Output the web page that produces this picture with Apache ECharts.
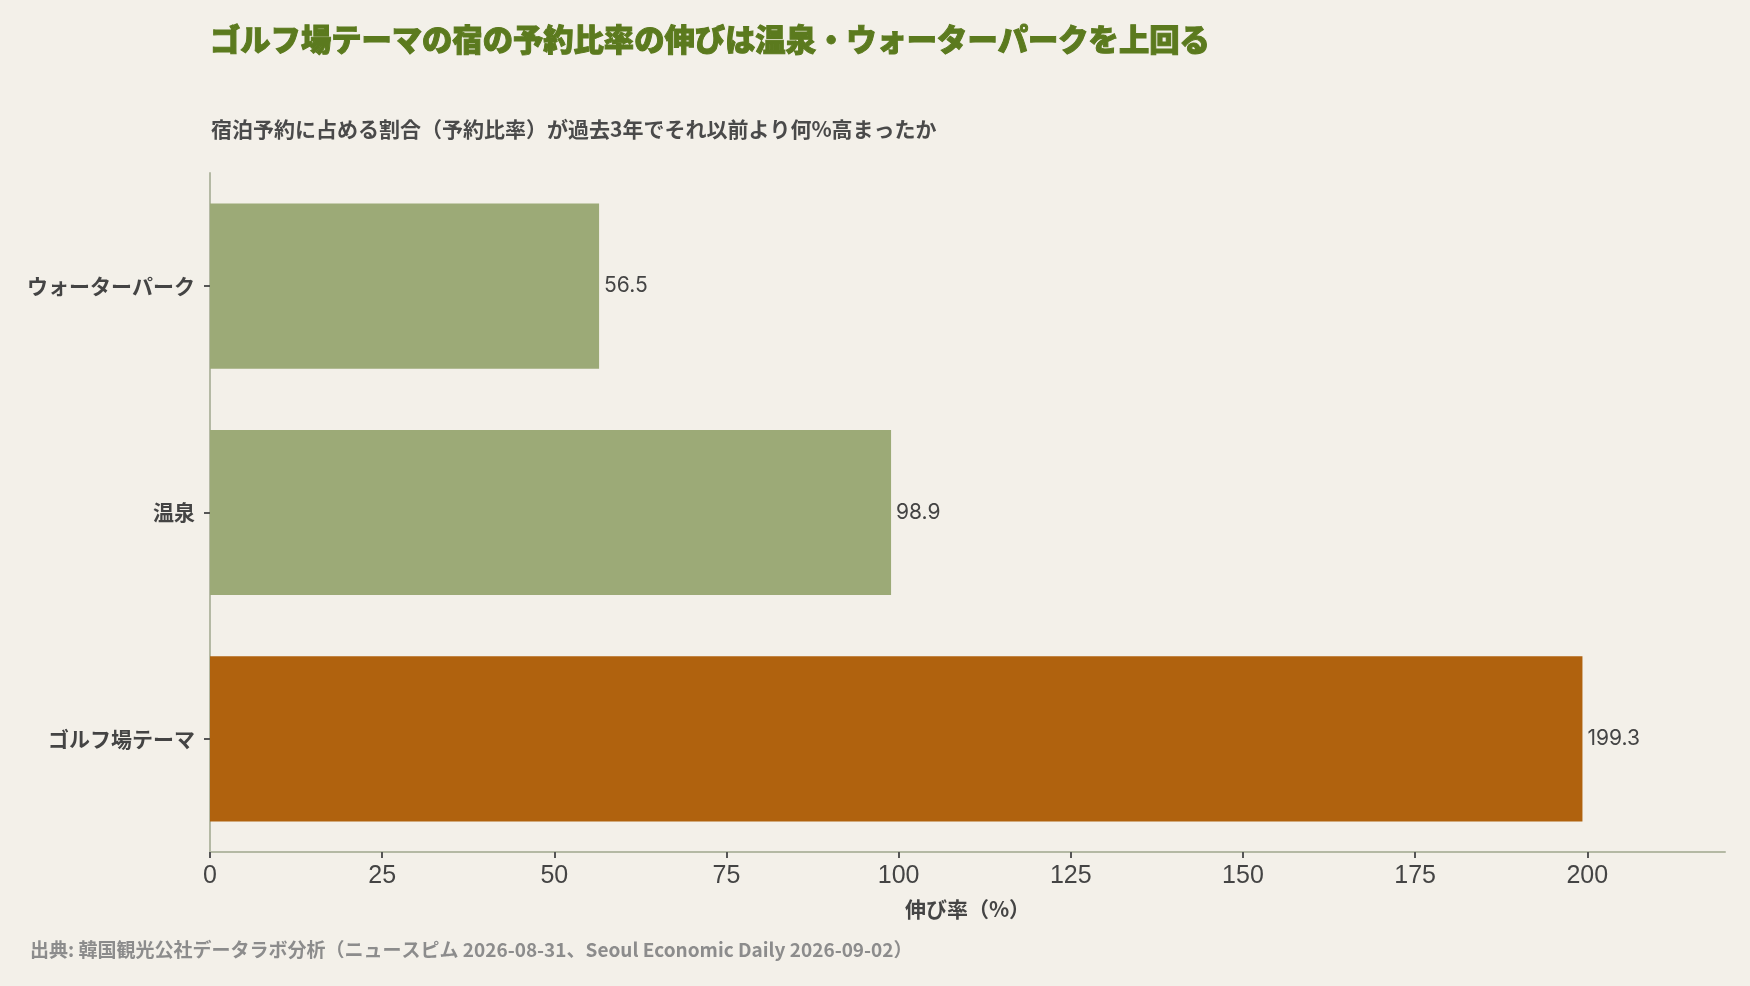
<!DOCTYPE html>
<html>
<head>
<meta charset="utf-8">
<script src="https://cdn.jsdelivr.net/npm/echarts@6/dist/echarts.min.js"></script>
<style>
html,body{margin:0;padding:0;background:#f3f0e9;}
#c{width:1750px;height:986px;}
</style>
</head>
<body>
<div id="c"></div>
<script>
const categories = ['ウォーターパーク', '温泉', 'ゴルフ場テーマ'];
const values = [56.5, 98.9, 199.3];
const highlight = [false, false, true];
const xTicks = [0, 25, 50, 75, 100, 125, 150, 175, 200];
const titleText = 'ゴルフ場テーマの宿の予約比率の伸びは温泉・ウォーターパークを上回る';
const subtitleText = '宿泊予約に占める割合（予約比率）が過去3年でそれ以前より何%高まったか';
const xName = '伸び率（%）';
const sourceText = '出典: 韓国観光公社データラボ分析（ニュースピム 2026-08-31、Seoul Economic Daily 2026-09-02）';

const JP = '"Noto Sans CJK JP", "Noto Sans", sans-serif';
const chart = echarts.init(document.getElementById('c'), null, {renderer: 'canvas'});
chart.setOption({
  backgroundColor: '#f3f0e9',
  animation: false,
  title: [
    {text: titleText, left: 205, top: 19,
     textStyle: {fontFamily: JP, fontSize: 30.3, fontWeight: 900, color: '#5b7a1e',
       textBorderColor: '#5b7a1e', textBorderWidth: 1}},
    {text: subtitleText, left: 206, top: 114,
     textStyle: {fontFamily: JP, fontSize: 21, fontWeight: 'bold', color: '#4a4a4a'}},
    {text: sourceText, left: 25, top: 935,
     textStyle: {fontFamily: JP, fontSize: 19, fontWeight: 'bold', color: '#8c8c8c'}}
  ],
  grid: {left: 210, right: 25, top: 173, bottom: 134, containLabel: false},
  xAxis: {
    type: 'value', min: 0, max: 220, interval: 25,
    name: xName, nameLocation: 'middle', nameGap: 47,
    nameTextStyle: {fontFamily: JP, fontSize: 21, fontWeight: 'bold', color: '#444'},
    axisLine: {show: true, lineStyle: {color: '#b4b9a4', width: 2}},
    axisTick: {show: true, length: 6, lineStyle: {color: '#555', width: 2}, customValues: xTicks},
    axisLabel: {fontFamily: '"Liberation Sans", Arial, sans-serif', fontSize: 25, color: '#444', margin: 12, customValues: xTicks},
    splitLine: {show: false}
  },
  yAxis: {
    type: 'category', data: categories, inverse: true,
    axisLine: {show: true, lineStyle: {color: '#b4b9a4', width: 2}},
    axisTick: {show: true, alignWithLabel: true, length: 6, lineStyle: {color: '#555', width: 2}},
    axisLabel: {fontFamily: JP, fontSize: 21, fontWeight: 'bold', color: '#444', margin: 15}
  },
  series: [{
    type: 'bar',
    barCategoryGap: '27%',
    data: values.map((v, i) => ({value: v, itemStyle: {color: highlight[i] ? '#b0620e' : '#9caa77'}})),
    label: {show: true, position: 'right', distance: 5, fontFamily: 'Inter, Roboto, sans-serif', fontSize: 21, color: '#444',
      formatter: p => p.value.toFixed(1)}
  }]
});
</script>
</body>
</html>
